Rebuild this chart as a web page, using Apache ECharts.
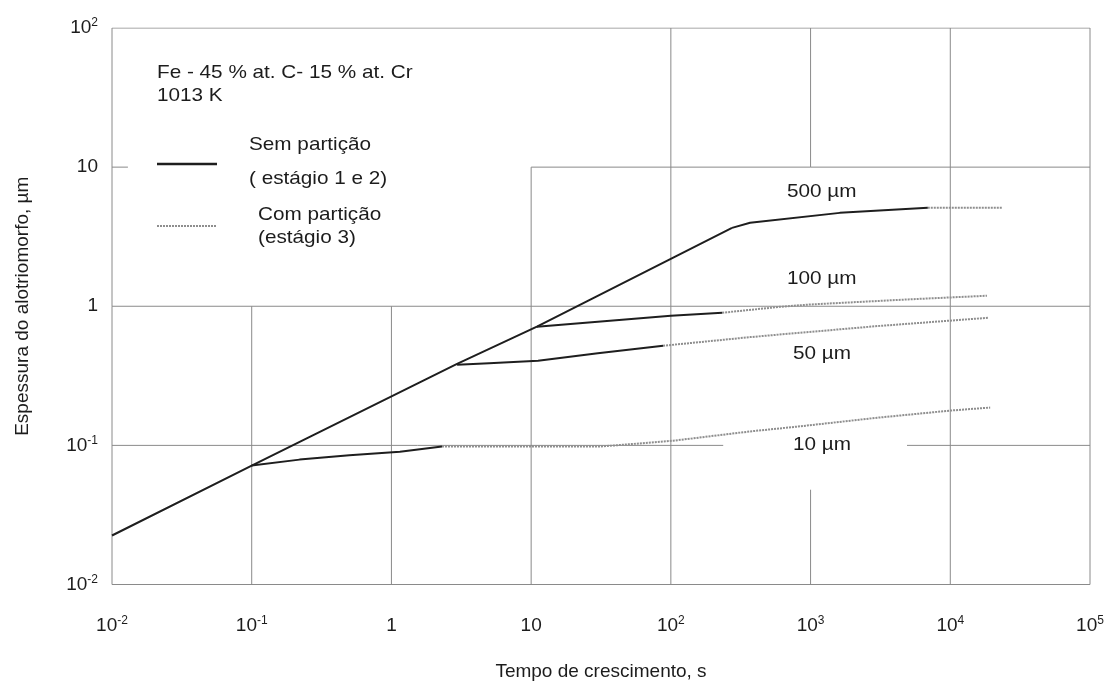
<!DOCTYPE html>
<html>
<head>
<meta charset="utf-8">
<script src="https://cdn.jsdelivr.net/npm/echarts@6/dist/echarts.min.js"></script>
<style>
html,body{margin:0;padding:0;background:#fff;}
#chart{width:1111px;height:686px;}
</style>
</head>
<body>
<div id="chart"></div>
<script>
// ---- Data (time in s, thickness in µm) ----
const xTicks = [0.01, 0.1, 1, 10, 100, 1000, 10000, 100000];
const yTicks = [0.01, 0.1, 1, 10, 100];

// Main parabolic line (Sem partição)
const mainLine = [[0.01, 0.0225], [0.1, 0.0716], [2.95, 0.385], [11, 0.713], [274, 3.66]];

// 500 µm branch
const c500Sem = [[274, 3.66], [369, 3.98], [1620, 4.69], [6900, 5.10]];
const c500Com = [[6900, 5.10], [23400, 5.10]];

// 100 µm branch
const c100Sem = [[11, 0.713], [100, 0.855], [233, 0.898]];
const c100Com = [[233, 0.898], [600, 0.99], [1000, 1.03], [5000, 1.12], [18300, 1.19]];

// 50 µm branch
const c50Sem = [[2.95, 0.38], [5, 0.39], [11.2, 0.405], [30, 0.46], [88, 0.52]];
const c50Com = [[88, 0.52], [370, 0.60], [840, 0.645], [3000, 0.72], [18600, 0.826]];

// 10 µm branch
const c10Sem = [[0.1, 0.0716], [0.22, 0.079], [0.5, 0.085], [1.15, 0.090], [2.3, 0.098]];
const c10Com = [[2.3, 0.098], [10, 0.098], [31, 0.098], [104, 0.108], [370, 0.126], [840, 0.137], [3000, 0.158], [10100, 0.178], [19300, 0.187]];

// Grid segments of the original (partial grid), in data units
const gridSegments = [
  [[0.01, 100], [100000, 100]],
  [[0.01, 0.01], [100000, 0.01]],
  [[0.01, 0.01], [0.01, 100]],
  [[100000, 0.01], [100000, 100]],
  [[10, 10], [100000, 10]],
  [[0.01, 10], [0.013, 10]],
  [[0.01, 1], [100000, 1]],
  [[0.01, 0.1], [237, 0.1]],
  [[4900, 0.1], [100000, 0.1]],
  [[0.1, 0.01], [0.1, 1]],
  [[1, 0.01], [1, 1]],
  [[10, 0.01], [10, 10]],
  [[100, 0.01], [100, 100]],
  [[1000, 10], [1000, 100]],
  [[1000, 0.01], [1000, 0.048]],
  [[10000, 0.01], [10000, 100]]
];

const curveLabels = ['500 µm', '100 µm', '50 µm', '10 µm'];
const titleLines = ['Fe - 45 % at. C- 15 % at. Cr', '1013 K'];
const legendNames = ['Sem partição', '( estágio 1 e 2)', 'Com partição', '(estágio 3)'];
const xName = 'Tempo de crescimento, s';
const yName = 'Espessura do alotriomorfo, µm';

// ---- Styles ----
const FONT = '"Liberation Sans", Arial, sans-serif';
const TXT = '#1c1c1c';
const BLACK = '#1e1e1e';
const GRAY = '#8e8e8e';
const GRIDC = '#8a8a8a';

function expLabel(v) {
  const e = Math.round(Math.log10(v));
  if (e === 0) return '{b|1}';
  if (e === 1) return '{b|10}';
  return '{b|10}{s|' + e + '}';
}
const richLbl = {
  b: { fontSize: 19, fontFamily: FONT, color: TXT, lineHeight: 22 },
  s: { fontSize: 12, fontFamily: FONT, color: TXT, verticalAlign: 'top', lineHeight: 12 }
};

const series = [];
gridSegments.forEach(function (seg) {
  series.push({
    type: 'line', data: seg, symbol: 'none', silent: true, z: 1,
    lineStyle: { color: GRIDC, width: 1 }, animation: false
  });
});
function curve(data, com) {
  series.push({
    type: 'line', data: data, symbol: 'none', silent: true, z: com ? 3 : 4,
    smooth: false, animation: false,
    lineStyle: com ? { color: GRAY, width: 2, type: [2, 1] } : { color: BLACK, width: 2 }
  });
}
curve(mainLine, false);
curve(c500Sem, false); curve(c500Com, true);
curve(c100Sem, false); curve(c100Com, true);
curve(c50Sem, false); curve(c50Com, true);
curve(c10Sem, false); curve(c10Com, true);

function txt(x, y, s) {
  return {
    type: 'text', left: x, top: y - 11, silent: true, z: 10, scaleX: 1.12,
    style: { text: s, font: '18.5px ' + FONT, fill: TXT, textVerticalAlign: 'top' }
  };
}

const chart = echarts.init(document.getElementById('chart'), null, { renderer: 'canvas' });
chart.setOption({
  backgroundColor: '#ffffff',
  animation: false,
  grid: { left: 112, right: 21, top: 28, bottom: 101, containLabel: false },
  xAxis: {
    type: 'log', logBase: 10, min: xTicks[0], max: xTicks[xTicks.length - 1], interval: 1,
    splitNumber: 7,
    axisLine: { show: false }, axisTick: { show: false }, splitLine: { show: false },
    axisLabel: { margin: 30, formatter: expLabel, rich: richLbl },
    name: xName, nameLocation: 'middle', nameGap: 87,
    nameTextStyle: { fontSize: 19, fontFamily: FONT, color: TXT, verticalAlign: 'middle' }
  },
  yAxis: {
    type: 'log', logBase: 10, min: yTicks[0], max: yTicks[yTicks.length - 1], interval: 1,
    splitNumber: 4,
    axisLine: { show: false }, axisTick: { show: false }, splitLine: { show: false },
    axisLabel: { margin: 14, formatter: expLabel, rich: richLbl },
    name: yName, nameLocation: 'middle', nameGap: 89,
    nameTextStyle: { fontSize: 19, fontFamily: FONT, color: TXT, verticalAlign: 'middle' }
  },
  graphic: [
    txt(157, 74, titleLines[0]),
    txt(157, 97, titleLines[1]),
    txt(249, 146, legendNames[0]),
    txt(249, 180, legendNames[1]),
    txt(258, 216, legendNames[2]),
    txt(258, 239, legendNames[3]),
    { type: 'line', silent: true, z: 10, shape: { x1: 157, y1: 164, x2: 217, y2: 164 }, style: { stroke: BLACK, lineWidth: 2.5 } },
    { type: 'line', silent: true, z: 10, shape: { x1: 157, y1: 226, x2: 217, y2: 226 }, style: { stroke: GRAY, lineWidth: 2, lineDash: [2, 1] } },
    txt(787, 193, curveLabels[0]),
    txt(787, 280, curveLabels[1]),
    txt(793, 355, curveLabels[2]),
    txt(793, 446, curveLabels[3])
  ],
  series: series
});
</script>
</body>
</html>
